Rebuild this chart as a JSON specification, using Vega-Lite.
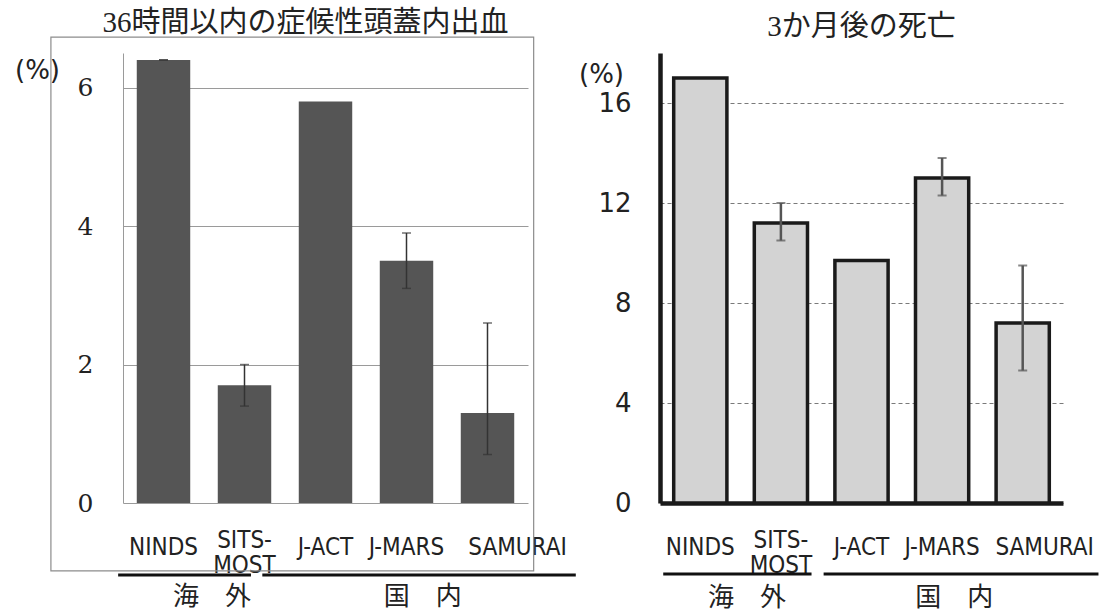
{
  "$schema": "https://vega.github.io/schema/vega-lite/v6.json",
  "background": "white",
  "padding": {"left": 14, "top": 9, "right": 0, "bottom": 0},
  "bounds": "flush",
  "spacing": 132,
  "config": {"view": {"stroke": null}},
  "datasets": {
    "trials": [
      {"study": "NINDS", "ich": 6.4, "ich_lo": 6.4, "ich_hi": 6.4, "death": 17.0, "death_lo": null, "death_hi": null},
      {"study": "SITS-MOST", "ich": 1.7, "ich_lo": 1.4, "ich_hi": 2.0, "death": 11.2, "death_lo": 10.5, "death_hi": 12.0},
      {"study": "J-ACT", "ich": 5.8, "ich_lo": null, "ich_hi": null, "death": 9.7, "death_lo": null, "death_hi": null},
      {"study": "J-MARS", "ich": 3.5, "ich_lo": 3.1, "ich_hi": 3.9, "death": 13.0, "death_lo": 12.3, "death_hi": 13.8},
      {"study": "SAMURAI", "ich": 1.3, "ich_lo": 0.7, "ich_hi": 2.6, "death": 7.2, "death_lo": 5.3, "death_hi": 9.5}
    ],
    "groupsLeft": [
      {"group": "海　外", "from": -0.06, "to": 1.58, "mid": 1.1},
      {"group": "国　内", "from": 1.72, "to": 5.59, "mid": 3.7}
    ],
    "groupsRight": [
      {"group": "海　外", "from": 0.04, "to": 1.88, "mid": 1.08},
      {"group": "国　内", "from": 2.03, "to": 5.44, "mid": 3.65}
    ]
  },
  "hconcat": [
    {
      "width": 405,
      "height": 450,
      "title": {"text": "36時間以内の症候性頭蓋内出血", "font": "Liberation Serif, Noto Sans CJK JP", "fontSize": 29, "fontWeight": "normal", "color": "#222222", "anchor": "middle", "dx": -20, "offset": -31, "baseline": "bottom"},
      "resolve": {"scale": {"x": "independent"}, "axis": {"x": "independent"}},
      "layer": [
        {
          "data": {"values": [{}]},
          "mark": {"type": "rect", "fill": "transparent", "stroke": "#8c8c8c", "strokeWidth": 1.2},
          "encoding": {
            "x": {"datum": -0.89, "type": "quantitative", "scale": {"domain": [0, 5], "nice": false, "zero": false}, "axis": null},
            "x2": {"datum": 5.07},
            "y": {"datum": 6.73, "type": "quantitative", "scale": {"domain": [0, 6.5], "nice": false}},
            "y2": {"datum": -0.98}
          }
        },
        {
          "data": {"name": "groupsLeft"},
          "mark": {"type": "rule", "color": "#111111", "strokeWidth": 3},
          "encoding": {
            "x": {"field": "from", "type": "quantitative", "scale": {"domain": [0, 5], "nice": false, "zero": false}, "axis": null},
            "x2": {"field": "to"},
            "y": {"datum": -1.04, "type": "quantitative"}
          }
        },
        {
          "data": {"name": "groupsLeft"},
          "mark": {"type": "text", "font": "Noto Sans CJK JP", "fontSize": 26, "color": "#222222", "baseline": "middle"},
          "encoding": {
            "x": {"field": "mid", "type": "quantitative", "scale": {"domain": [0, 5], "nice": false, "zero": false}, "axis": null},
            "y": {"datum": -1.36, "type": "quantitative"},
            "text": {"field": "group"}
          }
        },
        {
          "data": {"name": "trials"},
          "mark": {"type": "bar", "color": "#555555"},
          "encoding": {
            "x": {"field": "study", "type": "nominal", "sort": null, "scale": {"domain": ["NINDS", "SITS-MOST", "J-ACT", "J-MARS", "SAMURAI"], "paddingInner": 0.34, "paddingOuter": 0.17},
              "axis": {"title": null, "labelAngle": 0, "domain": false, "ticks": false, "tickSize": 0, "labelPadding": {"condition": {"test": "datum.label == 'SITS-MOST'", "value": 37}, "value": 44}, "labelOffset": {"condition": {"test": "datum.label == 'SAMURAI'", "value": 30}, "value": 0}, "labelBaseline": "middle", "labelFont": "Liberation Sans Narrow, DejaVu Sans Condensed, DejaVu Sans", "labelFontSize": 24, "labelColor": "#222222", "labelLineHeight": 25, "labelExpr": "datum.label == 'SITS-MOST' ? ['SITS-', 'MOST'] : datum.label"}},
            "y": {"field": "ich", "type": "quantitative", "scale": {"domain": [0, 6.5], "nice": false},
              "axis": {"title": "(%)", "values": [0, 2, 4, 6], "format": "d", "grid": true, "gridColor": "#9a9a9a", "gridWidth": 1, "domain": true, "domainColor": "#9a9a9a", "domainWidth": 1, "ticks": false, "tickSize": 0, "labelFont": "DejaVu Serif", "labelFontSize": 25, "labelColor": "#222222", "labelPadding": 30, "titleAngle": 0, "titleX": -86, "titleY": 17, "titleAlign": "center", "titleBaseline": "middle", "titleFont": "DejaVu Sans", "titleFontSize": 26, "titleFontWeight": "normal", "titleColor": "#222222"}}
          }
        },
        {
          "data": {"name": "trials"},
          "mark": {"type": "rule", "color": "#333333", "strokeWidth": 1.5},
          "encoding": {
            "x": {"field": "study", "type": "nominal", "sort": null, "scale": {"domain": ["NINDS", "SITS-MOST", "J-ACT", "J-MARS", "SAMURAI"], "paddingInner": 0.34, "paddingOuter": 0.17}, "axis": null},
            "y": {"field": "ich_lo", "type": "quantitative"},
            "y2": {"field": "ich_hi"}
          }
        },
        {
          "data": {"name": "trials"},
          "mark": {"type": "tick", "color": "#333333", "thickness": 1.5, "size": 9},
          "encoding": {
            "x": {"field": "study", "type": "nominal", "sort": null, "scale": {"domain": ["NINDS", "SITS-MOST", "J-ACT", "J-MARS", "SAMURAI"], "paddingInner": 0.34, "paddingOuter": 0.17}, "axis": null},
            "y": {"field": "ich_lo", "type": "quantitative"}
          }
        },
        {
          "data": {"name": "trials"},
          "mark": {"type": "tick", "color": "#333333", "thickness": 1.5, "size": 9},
          "encoding": {
            "x": {"field": "study", "type": "nominal", "sort": null, "scale": {"domain": ["NINDS", "SITS-MOST", "J-ACT", "J-MARS", "SAMURAI"], "paddingInner": 0.34, "paddingOuter": 0.17}, "axis": null},
            "y": {"field": "ich_hi", "type": "quantitative"}
          }
        }
      ]
    },
    {
      "width": 403,
      "height": 450,
      "title": {"text": "3か月後の死亡", "font": "Liberation Serif, Noto Sans CJK JP", "fontSize": 29, "fontWeight": "normal", "color": "#222222", "anchor": "middle", "offset": -18, "baseline": "bottom"},
      "resolve": {"scale": {"x": "independent"}, "axis": {"x": "independent"}},
      "layer": [
        {
          "data": {"name": "groupsRight"},
          "mark": {"type": "rule", "color": "#111111", "strokeWidth": 3},
          "encoding": {
            "x": {"field": "from", "type": "quantitative", "scale": {"domain": [0, 5], "nice": false, "zero": false}, "axis": null},
            "x2": {"field": "to"},
            "y": {"datum": -2.84, "type": "quantitative", "scale": {"domain": [0, 18], "nice": false}}
          }
        },
        {
          "data": {"name": "groupsRight"},
          "mark": {"type": "text", "font": "Noto Sans CJK JP", "fontSize": 26, "color": "#222222", "baseline": "middle"},
          "encoding": {
            "x": {"field": "mid", "type": "quantitative", "scale": {"domain": [0, 5], "nice": false, "zero": false}, "axis": null},
            "y": {"datum": -3.8, "type": "quantitative"},
            "text": {"field": "group"}
          }
        },
        {
          "data": {"name": "trials"},
          "mark": {"type": "bar", "fill": "#d3d3d3", "stroke": "#1a1a1a", "strokeWidth": 3.5},
          "encoding": {
            "x": {"field": "study", "type": "nominal", "sort": null, "scale": {"domain": ["NINDS", "SITS-MOST", "J-ACT", "J-MARS", "SAMURAI"], "paddingInner": 0.34, "paddingOuter": 0.17},
              "axis": {"title": null, "labelAngle": 0, "domain": true, "domainColor": "#1a1a1a", "domainWidth": 4.5, "ticks": false, "tickSize": 0, "labelPadding": {"condition": {"test": "datum.label == 'SITS-MOST'", "value": 37}, "value": 44}, "labelOffset": {"condition": {"test": "datum.label == 'SAMURAI'", "value": 22}, "value": 0}, "labelBaseline": "middle", "labelFont": "Liberation Sans Narrow, DejaVu Sans Condensed, DejaVu Sans", "labelFontSize": 24, "labelColor": "#222222", "labelLineHeight": 25, "labelExpr": "datum.label == 'SITS-MOST' ? ['SITS-', 'MOST'] : datum.label"}},
            "y": {"field": "death", "type": "quantitative", "scale": {"domain": [0, 18], "nice": false},
              "axis": {"title": "(%)", "values": [0, 4, 8, 12, 16], "grid": true, "gridColor": "#7a7a7a", "gridWidth": 1.2, "gridDash": [4, 3], "domain": true, "domainColor": "#1a1a1a", "domainWidth": 4.5, "ticks": false, "tickSize": 0, "labelFont": "DejaVu Sans", "labelFontSize": 26, "labelColor": "#222222", "labelPadding": 29, "titleAngle": 0, "titleX": -59, "titleY": 21, "titleAlign": "center", "titleBaseline": "middle", "titleFont": "DejaVu Sans", "titleFontSize": 26, "titleFontWeight": "normal", "titleColor": "#222222"}}
          }
        },
        {
          "data": {"name": "trials"},
          "mark": {"type": "rule", "color": "#555555", "strokeWidth": 2.5},
          "encoding": {
            "x": {"field": "study", "type": "nominal", "sort": null, "scale": {"domain": ["NINDS", "SITS-MOST", "J-ACT", "J-MARS", "SAMURAI"], "paddingInner": 0.34, "paddingOuter": 0.17}, "axis": null},
            "y": {"field": "death_lo", "type": "quantitative"},
            "y2": {"field": "death_hi"}
          }
        },
        {
          "data": {"name": "trials"},
          "mark": {"type": "tick", "color": "#555555", "thickness": 2, "size": 9},
          "encoding": {
            "x": {"field": "study", "type": "nominal", "sort": null, "scale": {"domain": ["NINDS", "SITS-MOST", "J-ACT", "J-MARS", "SAMURAI"], "paddingInner": 0.34, "paddingOuter": 0.17}, "axis": null},
            "y": {"field": "death_lo", "type": "quantitative"}
          }
        },
        {
          "data": {"name": "trials"},
          "mark": {"type": "tick", "color": "#555555", "thickness": 2, "size": 9},
          "encoding": {
            "x": {"field": "study", "type": "nominal", "sort": null, "scale": {"domain": ["NINDS", "SITS-MOST", "J-ACT", "J-MARS", "SAMURAI"], "paddingInner": 0.34, "paddingOuter": 0.17}, "axis": null},
            "y": {"field": "death_hi", "type": "quantitative"}
          }
        }
      ]
    }
  ]
}
